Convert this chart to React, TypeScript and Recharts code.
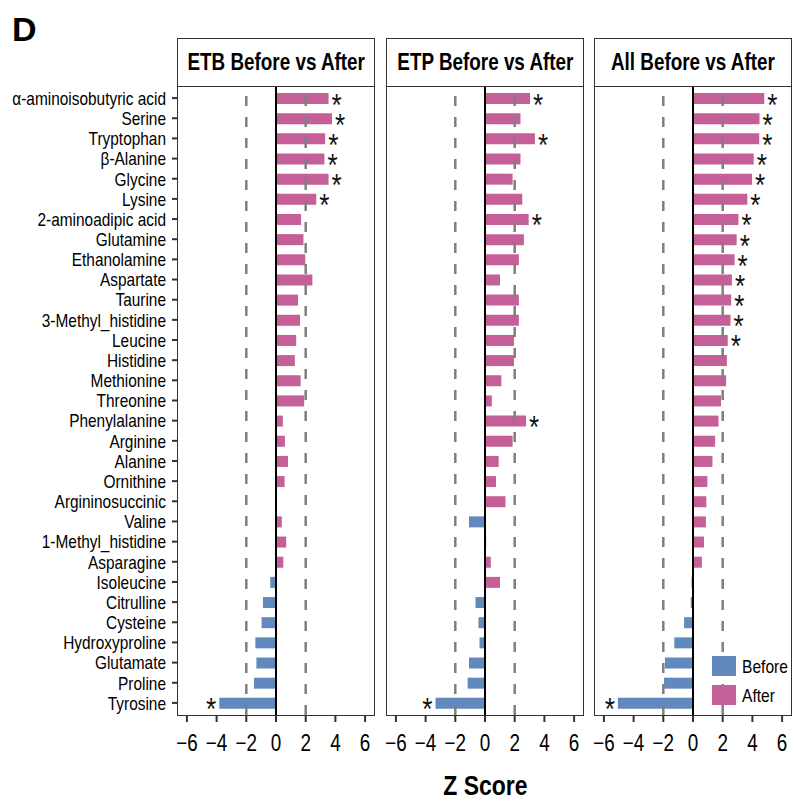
import React from "react";
import { BarChart, Bar, XAxis, YAxis, Cell, ReferenceLine, LabelList } from "recharts";

const categories = [
  "α-aminoisobutyric acid", "Serine", "Tryptophan", "β-Alanine", "Glycine", "Lysine",
  "2-aminoadipic acid", "Glutamine", "Ethanolamine", "Aspartate", "Taurine",
  "3-Methyl_histidine", "Leucine", "Histidine", "Methionine", "Threonine",
  "Phenylalanine", "Arginine", "Alanine", "Ornithine", "Argininosuccinic", "Valine",
  "1-Methyl_histidine", "Asparagine", "Isoleucine", "Citrulline", "Cysteine",
  "Hydroxyproline", "Glutamate", "Proline", "Tyrosine",
];

const etbValues = [
  3.54, 3.77, 3.31, 3.26, 3.54, 2.71, 1.69, 1.85, 1.97, 2.45, 1.48, 1.62, 1.36, 1.27, 1.66,
  1.9, 0.46, 0.6, 0.81, 0.58, 0, 0.39, 0.69, 0.49, -0.39, -0.88, -0.97, -1.39, -1.32, -1.48, -3.82,
];
const etpValues = [
  3.03, 2.39, 3.36, 2.39, 1.86, 2.51, 2.94, 2.62, 2.28, 1.01, 2.28, 2.28, 1.95, 1.95, 1.1,
  0.46, 2.76, 1.86, 0.92, 0.74, 1.38, -1.08, 0.08, 0.39, 1.01, -0.64, -0.44, -0.37, -1.08, -1.17, -3.33,
];
const allValues = [
  4.8, 4.48, 4.46, 4.09, 3.98, 3.66, 3.06, 2.94, 2.8, 2.62, 2.57, 2.53, 2.34, 2.28, 2.23,
  1.89, 1.72, 1.49, 1.31, 0.97, 0.9, 0.87, 0.74, 0.6, -0.1, -0.15, -0.6, -1.26, -1.89, -1.95, -5.06,
];

// significant rows (index into categories)
const etbSig = [0, 1, 2, 3, 4, 5, 30];
const etpSig = [0, 2, 6, 16, 30];
const allSig = [0, 1, 2, 3, 4, 5, 6, 7, 8, 9, 10, 11, 12, 30];

const xTicks = [-6, -4, -2, 0, 2, 4, 6];
const legendItems = ["Before", "After"];

const BLUE = "#6289BD";
const PINK = "#C45F98";
const SANS = '"Liberation Sans", Arial, sans-serif';
const SQ = 0.82; // horizontal squeeze to mimic a narrow face

const PLOT_TOP = 86;
const PLOT_H = 629;
const PANEL_W = 196;
const Y_W = 178;
const STRIP_TOP = 38;

const fmt = (v: number) => (v < 0 ? `\u2212${-v}` : `${v}`);

const YTick = (props: any) => {
  const { x, y, payload } = props;
  return (
    <g transform={`translate(${x},${y}) scale(${SQ},1)`}>
      <text textAnchor="end" dy="0.36em" fontSize={18.8} fontFamily={SANS} fill="#000">
        {payload.value}
      </text>
    </g>
  );
};

const XTick = (props: any) => {
  const { x, y, payload } = props;
  return (
    <g transform={`translate(${x},${y}) scale(${SQ},1)`}>
      <text textAnchor="middle" dy="0.72em" fontSize={23} fontFamily={SANS} fill="#000">
        {fmt(payload.value)}
      </text>
    </g>
  );
};

function starLabel(values: number[]) {
  return (props: any) => {
    const { x, y, width, height, value, index } = props;
    if (!value) return null;
    const v = values[index];
    const x0 = Number(x);
    const w = Number(width);
    const end = v < 0 ? Math.min(x0, x0 + w) : Math.max(x0, x0 + w);
    const cy = Number(y) + Number(height) / 2;
    const tx = v < 0 ? end - 3 : end + 3;
    return (
      <g transform={`translate(${tx},${cy + 17}) scale(${SQ},1)`}>
        <text textAnchor={v < 0 ? "end" : "start"} fontSize={32} fontFamily={SANS} fill="#111">
          *
        </text>
      </g>
    );
  };
}

function Panel({ title, values, sig, left, showY, legend }: {
  title: string; values: number[]; sig: number[]; left: number; showY?: boolean; legend?: boolean;
}) {
  const data = categories.map((name, i) => ({
    name,
    value: values[i],
    star: sig.includes(i) ? "*" : "",
  }));
  const chartLeft = showY ? left - Y_W : left - 12;
  return (
    <>
      <div style={{ position: "absolute", left: chartLeft, top: PLOT_TOP }}>
        <BarChart
          width={(showY ? Y_W : 12) + PANEL_W + 12}
          height={PLOT_H + 50}
          data={data}
          layout="vertical"
          margin={{ top: 0, right: 12, bottom: 0, left: showY ? 0 : 12 }}
        >
          <XAxis
            type="number"
            domain={[-6.6, 6.6]}
            ticks={xTicks}
            interval={0}
            allowDataOverflow
            axisLine={false}
            tickLine={{ stroke: "#333", strokeWidth: 2 }}
            tickSize={7}
            tickMargin={12}
            height={50}
            tick={<XTick />}
          />
          <YAxis
            type="category"
            dataKey="name"
            hide={!showY}
            width={Y_W}
            interval={0}
            axisLine={false}
            tickLine={{ stroke: "#333", strokeWidth: 2 }}
            tickSize={6}
            tickMargin={6}
            padding={{ top: 2, bottom: 2 }}
            tick={<YTick />}
          />
          <Bar dataKey="value" barSize={11} isAnimationActive={false}>
            {data.map((d, i) => (
              <Cell key={i} fill={d.value < 0 ? BLUE : PINK} />
            ))}
            <LabelList dataKey="star" content={starLabel(values)} />
          </Bar>
          <ReferenceLine x={-2} stroke="#7f7f7f" strokeWidth={2.5} strokeDasharray="10 11" />
          <ReferenceLine x={2} stroke="#7f7f7f" strokeWidth={2.5} strokeDasharray="10 11" />
          <ReferenceLine x={0} stroke="#000" strokeWidth={2} />
        </BarChart>
      </div>
      <div
        style={{
          position: "absolute", left: left - 1, top: PLOT_TOP - 1, width: PANEL_W + 2, height: PLOT_H + 2,
          border: "1.6px solid #333", boxSizing: "border-box", pointerEvents: "none",
        }}
      />
      <div
        style={{
          position: "absolute", left: left - 1, top: STRIP_TOP, width: PANEL_W + 2, height: PLOT_TOP - STRIP_TOP + 1,
          border: "1.6px solid #333", boxSizing: "border-box", background: "#fff",
          display: "flex", alignItems: "center", justifyContent: "center", whiteSpace: "nowrap",
        }}
      >
        <span
          style={{
            display: "inline-block", transform: `scaleX(${SQ})`, transformOrigin: "center",
            fontFamily: SANS, fontWeight: "bold", fontSize: 23, color: "#000", lineHeight: 1,
          }}
        >
          {title}
        </span>
      </div>
      {legend && (
        <div style={{ position: "absolute", left: left + 117, top: 656 }}>
          {legendItems.map((item, i) => (
            <div key={item} style={{ display: "flex", alignItems: "center", height: 20, marginBottom: i === 0 ? 9 : 0 }}>
              <div style={{ width: 24, height: 20, background: i === 0 ? BLUE : PINK }} />
              <span
                style={{
                  marginLeft: 6, display: "inline-block", transform: `scaleX(${SQ})`, transformOrigin: "left center",
                  fontFamily: SANS, fontSize: 19, color: "#000", lineHeight: 1, whiteSpace: "nowrap",
                }}
              >
                {item}
              </span>
            </div>
          ))}
        </div>
      )}
    </>
  );
}

export default function App() {
  return (
    <div style={{ position: "absolute", left: 0, top: 0, width: 796, height: 803, background: "#fff", overflow: "hidden" }}>
      <div style={{ position: "absolute", left: 12, top: 12, fontFamily: SANS, fontWeight: "bold", fontSize: 34, lineHeight: 1 }}>
        D
      </div>
      <Panel title="ETB Before vs After" values={etbValues} sig={etbSig} left={178} showY />
      <Panel title="ETP Before vs After" values={etpValues} sig={etpSig} left={387} />
      <Panel title="All Before vs After" values={allValues} sig={allSig} left={595} legend />
      <div style={{ position: "absolute", left: 178, width: 614, top: 772, textAlign: "center" }}>
        <span
          style={{
            display: "inline-block", transform: `scaleX(${SQ})`, transformOrigin: "center",
            fontFamily: SANS, fontWeight: "bold", fontSize: 28, lineHeight: 1,
          }}
        >
          Z Score
        </span>
      </div>
    </div>
  );
}
